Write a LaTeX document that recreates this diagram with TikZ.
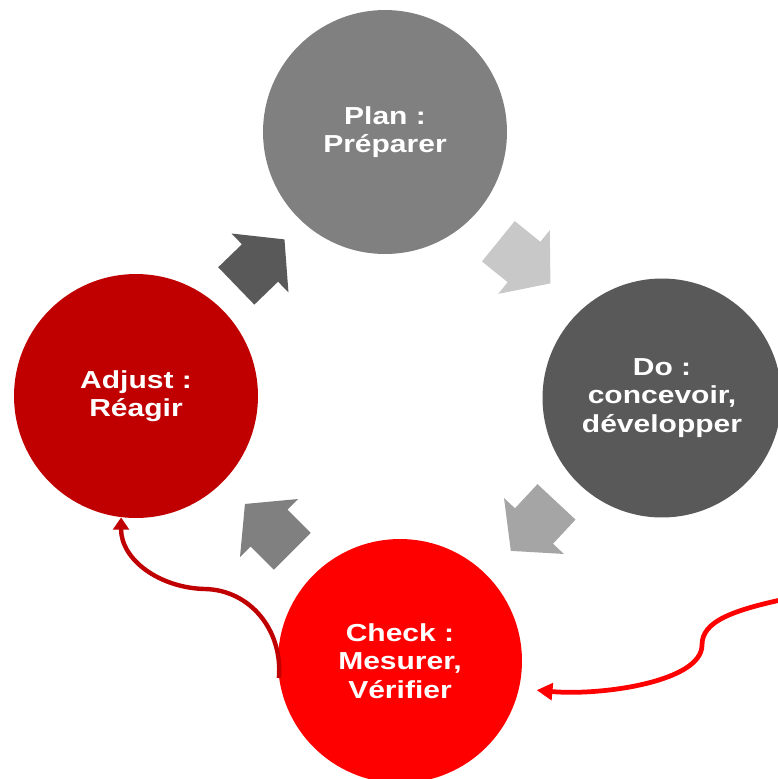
\documentclass[tikz,border=0pt]{standalone}
\usepackage{fontspec}
\newfontfamily\phasefont[FakeStretch=1.22]{Liberation Sans}
\usepackage{tikz}
\usetikzlibrary{arrows.meta}

\definecolor{plangray}{HTML}{808080}
\definecolor{dogray}{HTML}{595959}
\definecolor{checkred}{HTML}{FF0000}
\definecolor{adjustred}{HTML}{C00000}
\definecolor{arrowlight}{HTML}{C8C8C8}
\definecolor{arrowmid}{HTML}{A5A5A5}

\begin{document}
\begin{tikzpicture}[x=0.02cm, y=-0.02cm,
    phase/.style={circle, minimum size=4.88cm, inner sep=0pt, align=center, text=white,
      font=\phasefont\bfseries\fontsize{14}{16.2}\selectfont},
    loopline/.style={line width=2.7pt}]
    \useasboundingbox (0,0) rectangle (778,779);

    % Draw the four phases
    \node[phase, fill=plangray] (plan) at (385,132) {Plan :\\Préparer};
    \node[phase, fill=dogray, minimum size=4.78cm] (do) at (662,398) {Do :\\concevoir,\\développer};
    \node[phase, fill=checkred] (check) at (400,661) {Check :\\Mesurer,\\Vérifier};
    \node[phase, fill=adjustred] (adjust) at (136,396) {Adjust :\\Réagir};

    % Draw block arrows between phases
    \foreach \x/\y/\a/\c in {260/263/44/dogray, 524/262/-39/arrowlight, 534/526/-133/arrowmid, 269/528/135/plangray} {
      \fill[\c, shift={(\x,\y)}, rotate=\a] (-33,-26) -- (0,-26) -- (0,-41) -- (34,0) -- (0,41) -- (0,26) -- (-33,26) -- cycle;
    }

    % Feedback loops
    \coordinate (feed) at (795,597);
    \draw[loopline, checkred, -{Triangle[length=9pt, width=9.5pt]}, shorten >=10pt]
      (feed) .. controls (730,610) and (702,622) .. (702,645)
      .. controls (702,682) and (600,696) .. (check.-13.5);
    \draw[loopline, adjustred, line width=2.5pt, -{Triangle[length=7pt, width=9pt]}]
      (check.188) .. controls (283,630) and (250,590) .. (205,589)
      .. controls (160,588) and (121,560) .. (adjust.263);

  \end{tikzpicture}
\end{document}
